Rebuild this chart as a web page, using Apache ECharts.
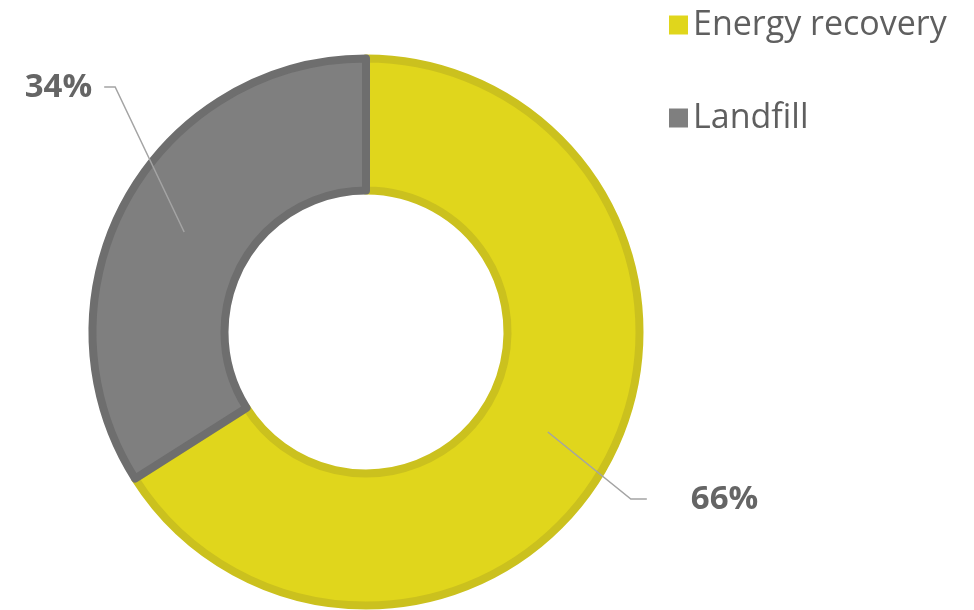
<!DOCTYPE html>
<html>
<head>
<meta charset="utf-8">
<style>html,body{margin:0;padding:0;background:#fff;}#c{width:974px;height:610px;}</style>
<script src="https://cdn.jsdelivr.net/npm/echarts@6/dist/echarts.min.js"></script>
</head>
<body>
<div id="c"></div>
<script>
const categories = ['Energy recovery', 'Landfill'];
const values = [66, 34];

const fillColors = ['#E0D61C', '#7F7F7F'];
const borderColors = ['#CBC11E', '#6E6E6E'];
const CX = 366, CY = 332, R_IN = 141.5, R_OUT = 273.5, BORDER = 8;
// label placement (elbow offset from mid-ring point, tail length, text gap)
const labelPlace = [
  { elbow: [83, 67], tail: 16, gap: 44, align: 'left' },
  { elbow: [-69, -145], tail: -11, gap: -12, align: 'right' }
];

const total = values.reduce((a, b) => a + b, 0);
function midAngle(i) {
  let before = 0;
  for (let k = 0; k < i; k++) before += values[k];
  const frac = (before + values[i] / 2) / total;
  return (90 - frac * 360) * Math.PI / 180;
}

const chart = echarts.init(document.getElementById('c'));
chart.setOption({
  animation: false,
  legend: {
    orient: 'vertical',
    left: 664, top: 3,
    itemWidth: 19, itemHeight: 19,
    itemGap: 59,
    icon: 'rect',
    itemStyle: { borderWidth: 0 },
    textStyle: { fontFamily: 'Open Sans', fontSize: 34, color: '#5f5f5f' },
    data: categories
  },
  series: [{
    type: 'pie',
    center: [CX, CY],
    radius: [R_IN, R_OUT],
    startAngle: 90,
    clockwise: true,
    z: 2,
    data: categories.map((n, i) => ({
      name: n, value: values[i],
      itemStyle: { color: fillColors[i], borderColor: borderColors[i], borderWidth: BORDER }
    })),
    label: { show: false },
    labelLine: { show: false },
    emphasis: { disabled: true }
  }, {
    type: 'pie',
    center: [CX, CY],
    radius: [R_IN, R_OUT],
    startAngle: 90,
    clockwise: true,
    z: 5,
    silent: true,
    legendHoverLink: false,
    avoidLabelOverlap: false,
    data: categories.map((n, i) => ({
      name: n, value: values[i],
      itemStyle: { color: 'rgba(0,0,0,0)', borderWidth: 0 }
    })),
    label: {
      show: true, position: 'outside',
      formatter: '{d}%',
      fontFamily: 'Open Sans', fontWeight: 'bold', fontSize: 33, color: '#656565'
    },
    labelLine: { show: true, lineStyle: { color: '#a4a4a4', width: 1.5 } },
    emphasis: { disabled: true },
    labelLayout: function (params) {
      const i = params.dataIndex;
      const a = midAngle(i);
      const rm = (R_IN + R_OUT) / 2;
      const p0 = [CX + rm * Math.cos(a), CY - rm * Math.sin(a)];
      const lp = labelPlace[i];
      const p1 = [p0[0] + lp.elbow[0], p0[1] + lp.elbow[1]];
      const p2 = [p1[0] + lp.tail, p1[1]];
      return {
        x: p2[0] + lp.gap, y: p2[1] + 1,
        align: lp.align, verticalAlign: 'middle',
        labelLinePoints: [p0, p1, p2]
      };
    }
  }]
});
</script>
</body>
</html>
